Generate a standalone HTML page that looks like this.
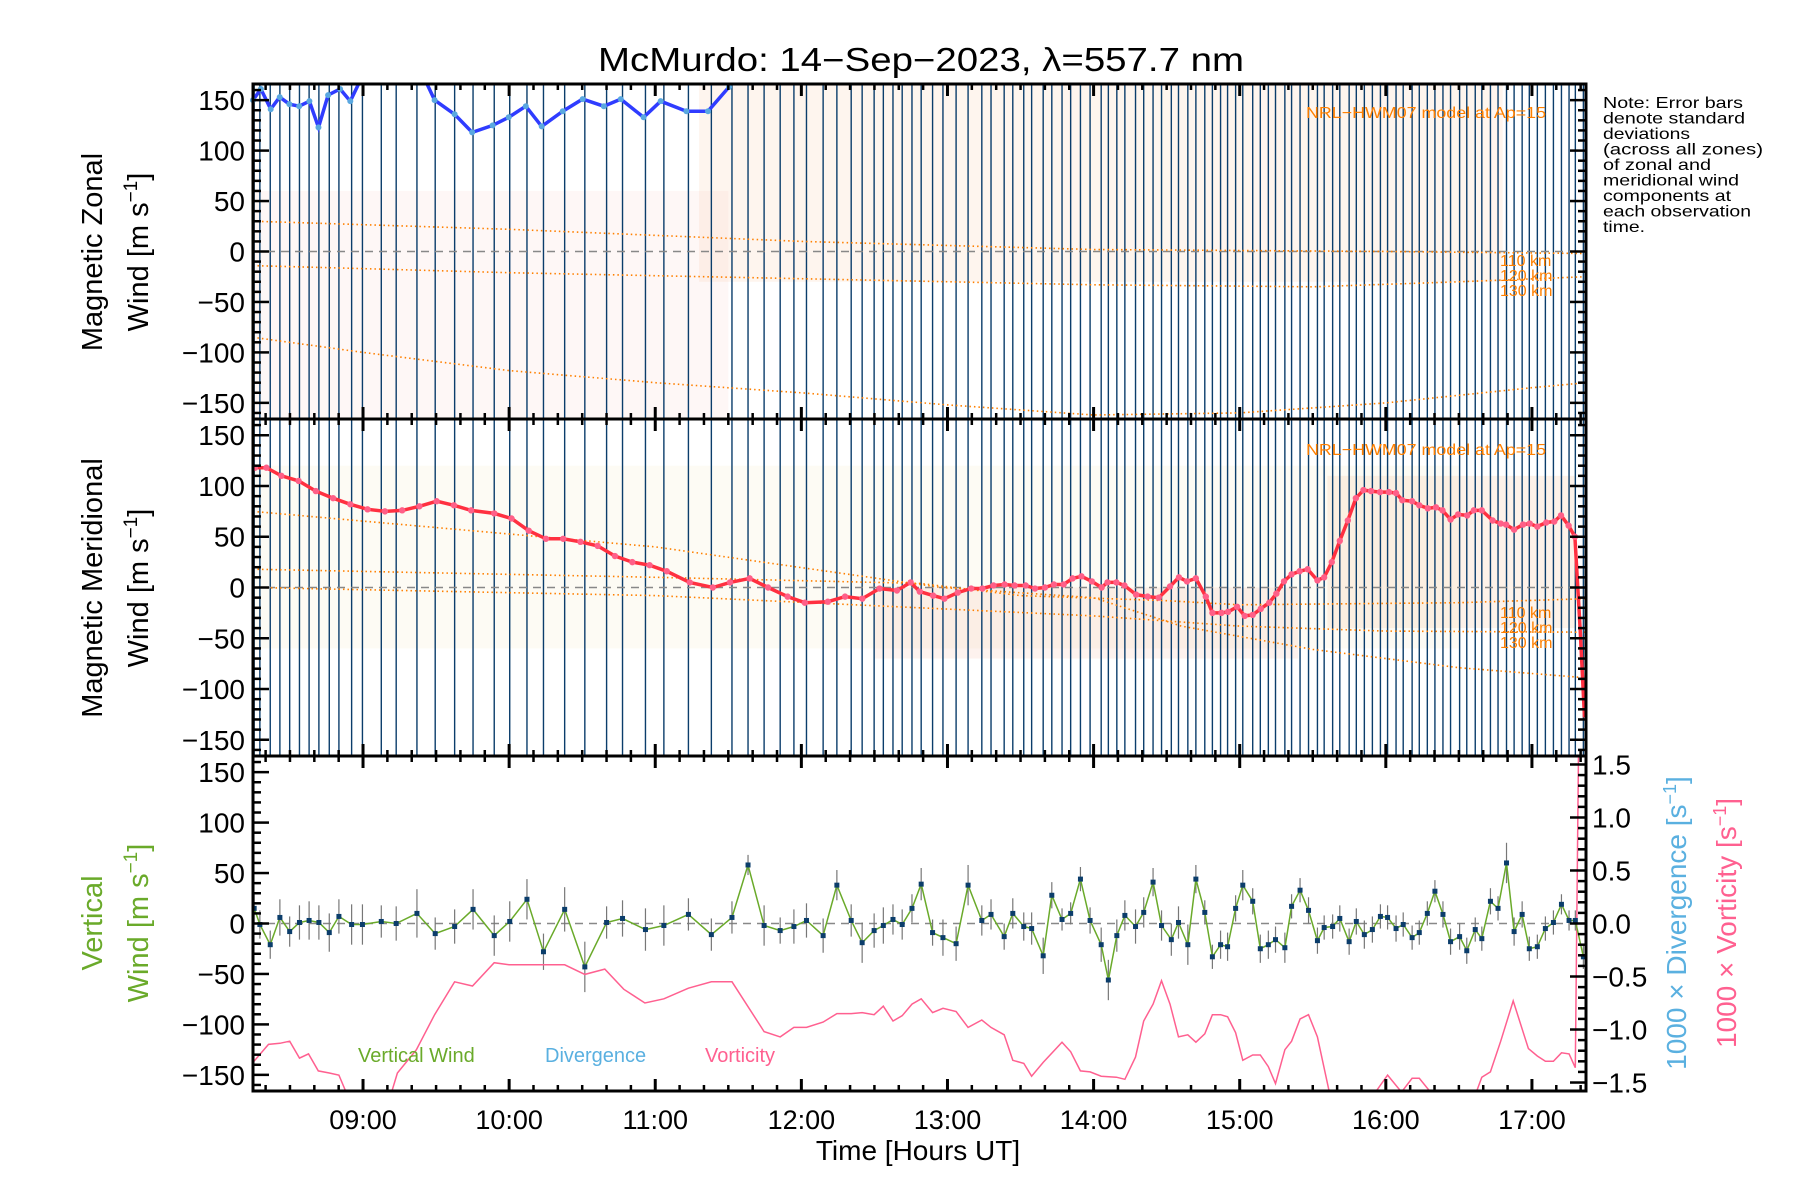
<!DOCTYPE html>
<html><head><meta charset="utf-8">
<style>
html,body{margin:0;padding:0;background:#fff;}
svg{display:block;font-family:"Liberation Sans",sans-serif;}
</style></head>
<body>
<svg id="chart" width="1800" height="1200" viewBox="0 0 1800 1200" xmlns="http://www.w3.org/2000/svg" style="position:absolute;left:0;top:0">
<text x="598" y="71" font-size="33" textLength="646" lengthAdjust="spacingAndGlyphs" fill="#000">McMurdo: 14−Sep−2023, λ=557.7 nm</text>
<g font-size="16" fill="#000">
<text x="1603" y="108" textLength="140" lengthAdjust="spacingAndGlyphs">Note: Error bars</text>
<text x="1603" y="123.5" textLength="142" lengthAdjust="spacingAndGlyphs">denote standard</text>
<text x="1603" y="139" textLength="87" lengthAdjust="spacingAndGlyphs">deviations</text>
<text x="1603" y="154.5" textLength="160" lengthAdjust="spacingAndGlyphs">(across all zones)</text>
<text x="1603" y="170" textLength="108" lengthAdjust="spacingAndGlyphs">of zonal and</text>
<text x="1603" y="185.5" textLength="136" lengthAdjust="spacingAndGlyphs">meridional wind</text>
<text x="1603" y="201" textLength="128" lengthAdjust="spacingAndGlyphs">components at</text>
<text x="1603" y="216.5" textLength="148" lengthAdjust="spacingAndGlyphs">each observation</text>
<text x="1603" y="232" textLength="42" lengthAdjust="spacingAndGlyphs">time.</text>
</g>
<g id="plots"></g>
</svg>
<script>
// ---- data ----
const hourLabels = ["09:00","10:00","11:00","12:00","13:00","14:00","15:00","16:00","17:00"];
const hourTicks = [9,10,11,12,13,14,15,16,17];
const windTicks = [-150,-100,-50,0,50,100,150];
const rateTicks = [-1.5,-1.0,-0.5,0.0,0.5,1.0,1.5];
const rateTickLabels = ["−1.5","−1.0","−0.5","0.0","0.5","1.0","1.5"];

const vwTimes = [8.255,8.294,8.365,8.431,8.498,8.565,8.631,8.698,8.769,8.835,8.922,8.996,9.125,9.227,9.369,9.494,9.627,9.753,9.898,10.004,10.122,10.235,10.380,10.518,10.667,10.776,10.933,11.059,11.227,11.384,11.525,11.635,11.745,11.855,11.949,12.035,12.149,12.243,12.341,12.416,12.498,12.561,12.627,12.690,12.757,12.820,12.898,12.969,13.059,13.141,13.235,13.298,13.388,13.447,13.522,13.576,13.655,13.714,13.784,13.843,13.910,13.976,14.052,14.101,14.159,14.214,14.287,14.343,14.407,14.465,14.532,14.581,14.645,14.700,14.761,14.813,14.869,14.917,14.972,15.021,15.089,15.141,15.196,15.245,15.309,15.355,15.413,15.471,15.532,15.578,15.636,15.685,15.749,15.798,15.853,15.908,15.963,16.012,16.070,16.119,16.180,16.229,16.284,16.336,16.391,16.443,16.505,16.554,16.612,16.657,16.716,16.768,16.826,16.878,16.933,16.982,17.037,17.092,17.147,17.202,17.254,17.297,17.352];
const vwValues = [15,-1,-21,6,-8,1,3,1,-9,7,-1,-1,2,0,10,-10,-3,14,-12,2,24,-28,14,-43,1,5,-6,-2,9,-11,6,58,-2,-7,-3,3,-12,38,3,-19,-7,-2,4,-1,15,39,-9,-14,-20,38,3,9,-13,10,-3,-5,-32,28,4,10,44,3,-21,-56,-12,8,-3,11,41,-2,-16,1,-21,44,11,-33,-21,-23,15,38,22,-25,-21,-16,-24,17,33,13,-17,-4,-3,5,-18,2,-11,-6,7,6,-5,-1,-14,-9,10,32,9,-18,-13,-27,-6,-15,22,15,60,-8,9,-25,-23,-5,1,19,3,3,-33];
const vwErrors = [15,14,14,18,15,17,19,17,19,17,20,20,16,17,24,16,17,20,20,20,20,18,22,25,16,18,21,20,16,16,16,10,20,13,17,17,17,15,16,20,17,18,15,15,14,16,13,18,17,20,15,15,13,15,14,16,18,13,11,11,12,13,17,20,16,15,17,15,14,15,16,16,20,14,12,12,14,14,13,15,13,14,14,13,15,12,12,13,13,12,12,13,13,13,14,13,12,12,13,12,12,12,12,11,13,13,13,13,12,12,13,12,20,14,13,12,12,12,12,10,10,10,12];

const vortTimes = [8.247,8.353,8.431,8.498,8.565,8.627,8.694,8.769,8.835,8.933,9.161,9.235,9.365,9.490,9.627,9.749,9.898,10.0,10.235,10.380,10.518,10.655,10.784,10.929,11.059,11.227,11.384,11.525,11.745,11.855,11.949,12.035,12.149,12.243,12.341,12.416,12.498,12.561,12.627,12.690,12.757,12.820,12.898,12.969,13.059,13.141,13.235,13.298,13.388,13.447,13.522,13.576,13.655,13.784,13.843,13.910,13.976,14.052,14.156,14.214,14.287,14.343,14.407,14.465,14.523,14.581,14.645,14.700,14.761,14.813,14.869,14.917,14.972,15.021,15.089,15.141,15.196,15.245,15.309,15.355,15.413,15.471,15.532,15.618,15.914,16.012,16.107,16.180,16.229,16.306,16.612,16.657,16.716,16.786,16.872,16.976,17.037,17.092,17.147,17.202,17.254,17.297,17.32];
const vortValues = [-1.31,-1.14,-1.13,-1.11,-1.27,-1.23,-1.39,-1.41,-1.43,-1.75,-1.75,-1.41,-1.19,-0.86,-0.55,-0.59,-0.37,-0.39,-0.39,-0.39,-0.48,-0.43,-0.62,-0.75,-0.71,-0.61,-0.55,-0.55,-1.02,-1.07,-0.98,-0.98,-0.93,-0.85,-0.85,-0.84,-0.86,-0.78,-0.92,-0.87,-0.76,-0.71,-0.84,-0.80,-0.83,-0.98,-0.91,-0.98,-1.05,-1.29,-1.32,-1.44,-1.31,-1.12,-1.21,-1.39,-1.40,-1.44,-1.45,-1.47,-1.26,-0.92,-0.76,-0.54,-0.76,-1.07,-1.05,-1.12,-1.04,-0.86,-0.86,-0.88,-1.03,-1.29,-1.24,-1.24,-1.35,-1.51,-1.19,-1.11,-0.90,-0.86,-1.07,-1.62,-1.62,-1.43,-1.59,-1.46,-1.46,-1.59,-1.62,-1.45,-1.40,-1.11,-0.73,-1.18,-1.25,-1.30,-1.30,-1.22,-1.23,-1.36,1.8];

const zonalTimes = [8.247,8.301,8.368,8.430,8.496,8.563,8.633,8.695,8.761,8.843,8.913,8.976,9.2,9.432,9.490,9.627,9.747,9.887,9.997,10.114,10.223,10.367,10.503,10.648,10.764,10.920,11.037,11.213,11.361,11.505,11.6,17.37];
const zonalValues = [150,161,141,153,146,144,149,123,155,161,149,168,200,168,150,136,118,125,133,144,124,139,151,144,151,133,149,139,139,163,200,220];

const meridTimes = [8.26,8.339,8.441,8.559,8.677,8.795,8.913,9.031,9.150,9.268,9.386,9.504,9.622,9.740,9.898,10.016,10.134,10.252,10.370,10.488,10.606,10.724,10.843,10.961,11.079,11.236,11.394,11.512,11.646,11.772,11.906,12.024,12.181,12.299,12.417,12.535,12.654,12.748,12.81,12.902,12.979,13.070,13.162,13.239,13.315,13.391,13.459,13.535,13.599,13.667,13.728,13.795,13.856,13.917,13.988,14.055,14.095,14.156,14.211,14.291,14.370,14.446,14.523,14.584,14.639,14.700,14.768,14.813,14.875,14.920,14.982,15.034,15.089,15.144,15.202,15.251,15.303,15.355,15.410,15.465,15.532,15.578,15.630,15.685,15.740,15.795,15.847,15.899,15.960,16.021,16.070,16.113,16.180,16.229,16.287,16.343,16.388,16.443,16.495,16.557,16.602,16.657,16.731,16.786,16.823,16.878,16.939,16.985,17.037,17.098,17.153,17.199,17.251,17.294,17.330,17.360];
const meridValues = [118,118,110,105,95,88,82,77,75,76,80,85,81,76,73,68,56,48,48,45,41,31,25,22,16,5,0,5,9,0,-9,-15,-14,-9,-11,-1,-3,5,-4,-8,-11,-5,-1,-1,2,3,2,2,-1,0,3,3,9,11,6,0,5,5,2,-7,-9,-10,1,10,6,9,-9,-25,-25,-24,-19,-28,-27,-21,-15,-6,6,13,16,18,7,10,25,46,66,88,96,95,94,94,93,86,85,81,78,79,76,67,72,71,76,76,66,63,62,57,62,63,60,64,65,71,61,50,-42,-128];

const modelTimesZ110 = [8.247,10,12,14,16,17.37];
const modelZ110 = [30,22,10,2,0,-2];
const modelTimesZ120 = [8.247,10,12,14,15.5,16.5,17.37];
const modelZ120 = [-14,-21,-27,-33,-35,-30,-25];
const modelTimesZ130 = [8.247,9,10,11,12,13,14,15,16,17,17.37];
const modelZ130 = [-85,-100,-118,-130,-140,-152,-162,-160,-150,-135,-130];
const modelTimesM110 = [8.247,11.0,12.96,14.0,14.6,15.5,16.5,17.37];
const modelM110 = [75,40,0,-10,-38,-61,-79,-89];
const modelTimesM120 = [8.247,11,12.81,13.5,14.5,15,16.5,17.37];
const modelM120 = [18,10,4,-8,-13,-17,-15,-11];
const modelTimesM130 = [8.247,11,12.81,14,15,16,17.37];
const modelM130 = [0,-8,-20,-28,-38,-43,-44];

// ---- layout ----
const XL=253, XR=1586, T0=8.247, T1=17.37, YMAX=166, RMAX=1.58;
const panels=[{top:84,bot:419},{top:419,bot:756},{top:756,bot:1091}];
const NS="http://www.w3.org/2000/svg";
const root=document.getElementById('plots');
function X(t){return XL+(t-T0)/(T1-T0)*(XR-XL);}
function Y(p,v){const P=panels[p];return (P.top+P.bot)/2 - v/YMAX*(P.bot-P.top)/2;}
function YR(p,v){const P=panels[p];return (P.top+P.bot)/2 - v/RMAX*(P.bot-P.top)/2;}
function mk(tag,attrs,parent){const e=document.createElementNS(NS,tag);for(const k in attrs)e.setAttribute(k,attrs[k]);(parent||root).appendChild(e);return e;}

const defs=mk('defs',{});
panels.forEach((P,i)=>{const c=mk('clipPath',{id:'clip'+i},defs);mk('rect',{x:XL,y:P.top,width:XR-XL,height:P.bot-P.top},c);});

function polyline(p,times,vals,yf,attrs,name){
  const pts=times.map((t,i)=>X(t).toFixed(1)+','+yf(p,vals[i]).toFixed(1)).join(' ');
  const el=mk('polyline',Object.assign({points:pts,fill:'none','clip-path':'url(#clip'+p+')'},attrs));
  
  
  return el;
}

[[0,11.3,16.8,-30,166,'#f7c9a0',0.18],[0,8.247,11.5,-166,60,'#f4c0b8',0.12],[1,15.6,17.3,-40,110,'#f7c090',0.2],[1,8.247,16.5,-60,120,'#f2e6b0',0.14],[1,12.5,15.4,-70,0,'#f6b8a0',0.18]].forEach(r=>{
  const el=mk('rect',{x:X(r[1]),y:Y(r[0],r[4]),width:X(r[2])-X(r[1]),height:Y(r[0],r[3])-Y(r[0],r[4]),fill:r[5],opacity:r[6]});
  
  
});

[0,1].forEach(p=>{
  vwTimes.forEach(t=>{
    const el=mk('line',{x1:X(t),x2:X(t),y1:panels[p].top,y2:panels[p].bot,stroke:'#0b3d6b','stroke-width':1.4});
    
    
  });
});

panels.forEach((P,p)=>{
  const el=mk('line',{x1:XL,x2:XR,y1:Y(p,0),y2:Y(p,0),stroke:'#888','stroke-width':1.5,'stroke-dasharray':'8,6'});
  
  
});

const orange={stroke:'#ff8000','stroke-width':1.6,'stroke-dasharray':'1.5,3'};
polyline(0,modelTimesZ110,modelZ110,Y,orange,'model-110km-zonal');
polyline(0,modelTimesZ120,modelZ120,Y,orange,'model-120km-zonal');
polyline(0,modelTimesZ130,modelZ130,Y,orange,'model-130km-zonal');
polyline(1,modelTimesM110,modelM110,Y,orange,'model-110km-meridional');
polyline(1,modelTimesM120,modelM120,Y,orange,'model-120km-meridional');
polyline(1,modelTimesM130,modelM130,Y,orange,'model-130km-meridional');

polyline(0,zonalTimes,zonalValues,Y,{stroke:'#2f3cff','stroke-width':3.5},'zonal-wind-line');
zonalTimes.forEach((t,i)=>{ if(zonalValues[i]<=166){
  const el=mk('circle',{cx:X(t),cy:Y(0,zonalValues[i]),r:3,fill:'#5aa8e0'});
  
  
}});
polyline(1,meridTimes,meridValues,Y,{stroke:'#ff3040','stroke-width':3.5},'meridional-wind-line');
meridTimes.forEach((t,i)=>{ if(Math.abs(meridValues[i])<=166 && i<meridTimes.length-2){
  const el=mk('circle',{cx:X(t),cy:Y(1,meridValues[i]),r:3.2,fill:'#ff6088'});
  
  
}});

vwTimes.forEach((t,i)=>{
  const el=mk('line',{x1:X(t),x2:X(t),y1:Y(2,vwValues[i]+vwErrors[i]),y2:Y(2,vwValues[i]-vwErrors[i]),stroke:'#777','stroke-width':1.2});
  
  
});
polyline(2,vortTimes,vortValues,YR,{stroke:'#ff6090','stroke-width':1.5},'vorticity-line');
polyline(2,vwTimes,vwValues,Y,{stroke:'#6aaa2a','stroke-width':1.5},'vertical-wind-line');
vwTimes.forEach((t,i)=>{
  const el=mk('rect',{x:X(t)-2.5,y:Y(2,vwValues[i])-2.5,width:5,height:5,fill:'#0b3d6b'});
  
  
});

panels.forEach((P,p)=>{
  const fr=mk('rect',{x:XL,y:P.top,width:XR-XL,height:P.bot-P.top,fill:'none',stroke:'#000','stroke-width':3});
  
  
  for(let m=Math.ceil(T0*6);m<=T1*6;m++){
    const t=m/6, major=(m%6===0), len=major?12:6, x=X(t);
    mk('line',{x1:x,x2:x,y1:P.bot,y2:P.bot-len,stroke:'#000','stroke-width':major?3:2.5});
    mk('line',{x1:x,x2:x,y1:P.top,y2:P.top+len,stroke:'#000','stroke-width':major?3:2.5});
  }
  for(let v=-160;v<=160;v+=10){
    const major=(v%50===0), len=major?16:8, y=Y(p,v);
    mk('line',{x1:XL,x2:XL+len,y1:y,y2:y,stroke:'#000','stroke-width':2.5});
    if(p<2) mk('line',{x1:XR,x2:XR-len,y1:y,y2:y,stroke:'#000','stroke-width':2.5});
  }
  windTicks.forEach(v=>{
    const el=mk('text',{x:XL-8,y:Y(p,v)+10,'font-size':28,'text-anchor':'end',fill:'#000'});
    el.textContent=(v<0?'−':'')+Math.abs(v);
    
    
  });
});
for(let k=-15;k<=15;k++){
  const v=k/10, major=(k%5===0), len=major?16:8, y=YR(2,v);
  mk('line',{x1:XR,x2:XR-len,y1:y,y2:y,stroke:'#000','stroke-width':2.5});
}
rateTicks.forEach((v,i)=>{
  const el=mk('text',{x:XR+6,y:YR(2,v)+10,'font-size':28,fill:'#000'});
  el.textContent=rateTickLabels[i];
  
  
});
hourTicks.forEach((h,i)=>{
  const el=mk('text',{x:X(h),y:1129,'font-size':27,'text-anchor':'middle',fill:'#000'});
  el.textContent=hourLabels[i];
  
  
});
</script>
<svg style="position:absolute;left:0;top:0" width="1800" height="1200">
<g font-family="Liberation Sans, sans-serif">
<text x="918" y="1160" font-size="28" text-anchor="middle">Time [Hours UT]</text>
<text transform="translate(102,252) rotate(-90)" font-size="29" text-anchor="middle">Magnetic Zonal</text>
<text transform="translate(148,252) rotate(-90)" font-size="29" text-anchor="middle">Wind [m s<tspan font-size="19" dy="-11">−1</tspan><tspan dy="11">]</tspan></text>
<text transform="translate(102,588) rotate(-90)" font-size="29" text-anchor="middle">Magnetic Meridional</text>
<text transform="translate(148,588) rotate(-90)" font-size="29" text-anchor="middle">Wind [m s<tspan font-size="19" dy="-11">−1</tspan><tspan dy="11">]</tspan></text>
<text transform="translate(102,923) rotate(-90)" font-size="29" text-anchor="middle" fill="#6aaa2a">Vertical</text>
<text transform="translate(148,923) rotate(-90)" font-size="29" text-anchor="middle" fill="#6aaa2a">Wind [m s<tspan font-size="19" dy="-11">−1</tspan><tspan dy="11">]</tspan></text>
<text transform="translate(1686,923) rotate(-90)" font-size="28" text-anchor="middle" fill="#5ab0e0">1000 × Divergence [s<tspan font-size="18" dy="-10">−1</tspan><tspan dy="10">]</tspan></text>
<text transform="translate(1736,923) rotate(-90)" font-size="28" text-anchor="middle" fill="#ff6090">1000 × Vorticity [s<tspan font-size="18" dy="-10">−1</tspan><tspan dy="10">]</tspan></text>
<text x="358" y="1062" font-size="20" fill="#6aaa2a">Vertical Wind</text>
<text x="545" y="1062" font-size="20" fill="#5ab0e0">Divergence</text>
<text x="705" y="1062" font-size="20" fill="#ff6090">Vorticity</text>
<g font-size="16" fill="#ff8000">
<text x="1306" y="118" textLength="240" lengthAdjust="spacingAndGlyphs">NRL−HWM07 model at Ap=15</text>
<text x="1500" y="266">110 km</text>
<text x="1500" y="281">120 km</text>
<text x="1500" y="296">130 km</text>
<text x="1306" y="455" textLength="240" lengthAdjust="spacingAndGlyphs">NRL−HWM07 model at Ap=15</text>
<text x="1500" y="618">110 km</text>
<text x="1500" y="633">120 km</text>
<text x="1500" y="648">130 km</text>
</g>
</g>
</svg>
</body></html>
